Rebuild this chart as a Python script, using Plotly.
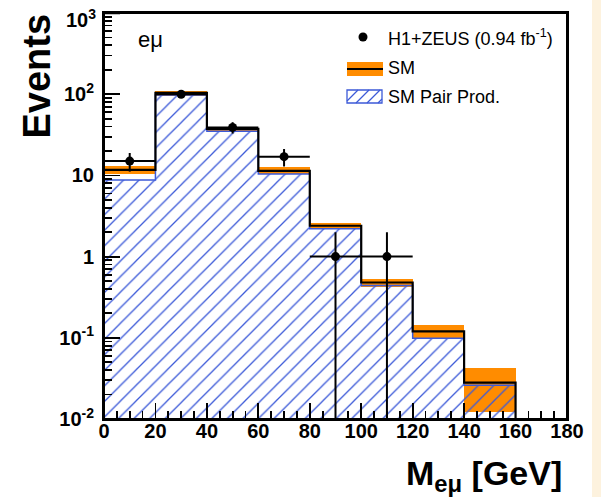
import numpy as np
import plotly.graph_objects as go

# ---------------- data ----------------
bin_edges = [0, 20, 40, 60, 80, 100, 120, 140, 160]
sm_total = [11.7, 104.0, 37.5, 11.4, 2.4, 0.48, 0.12, 0.028]
sm_low = [10.4, 96.0, 35.5, 10.4, 2.18, 0.42, 0.099, 0.0123]
sm_high = [13.1, 110.0, 40.0, 12.7, 2.63, 0.53, 0.144, 0.043]
pair_prod = [8.8, 98.0, 35.0, 10.4, 2.2, 0.44, 0.099, 0.026]
data_x = [10, 30, 50, 70, 90, 110]
data_n = [15, 100, 39, 17, 1, 1]

x_ticks = [0, 20, 40, 60, 80, 100, 120, 140, 160, 180]
y_tickvals = [1e-2, 1e-1, 1, 10, 1e2, 1e3]
y_ticktext = ["10<sup>-2</sup>", "10<sup>-1</sup>", "1", "10", "10<sup>2</sup>", "10<sup>3</sup>"]
y_min, y_max = 1e-2, 1e3
x_min, x_max = 0, 180

ORANGE = "#ff8c00"
BLUE = "#3c5ad8"
FONT = "Liberation Sans"

# ---------------- geometry helpers (pixel -> paper) ----------------
W, H = 601, 497
L, R, T, B = 104, 567, 13, 419


def xp(px):
    return (px - L) / (R - L)


def yp(py):
    return (B - py) / (B - T)


edges = np.array(bin_edges, dtype=float)
centers = (edges[:-1] + edges[1:]) / 2
widths = np.diff(edges)

# minor tick positions on the log axis (2..9 of every decade)
minor_y = [m * 10.0 ** d for d in range(-2, 3) for m in range(2, 10)]
yrange = [np.log10(y_min), np.log10(y_max)]

fig = go.Figure()

# SM uncertainty band
fig.add_trace(go.Bar(
    x=centers, width=widths, base=sm_low,
    y=np.array(sm_high) - np.array(sm_low),
    marker=dict(color=ORANGE, line=dict(width=0)),
    showlegend=False, hoverinfo="skip"))

# SM pair production (hatched)
fig.add_trace(go.Bar(
    x=centers, width=widths, y=pair_prod,
    marker=dict(color="rgba(0,0,0,0)", line=dict(width=0),
                pattern=dict(shape="/", fgcolor=BLUE, bgcolor="rgba(0,0,0,0)",
                             fillmode="replace", size=11, solidity=0.12)),
    showlegend=False, hoverinfo="skip"))

# pair production outline
fig.add_trace(go.Scatter(
    x=list(edges), y=list(pair_prod) + [pair_prod[-1]],
    mode="lines", line=dict(color=BLUE, width=1.5, shape="hv"),
    showlegend=False, hoverinfo="skip"))

# SM total step line
fig.add_trace(go.Scatter(
    x=list(edges) + [edges[-1]], y=list(sm_total) + [sm_total[-1], y_min * 1e-3],
    mode="lines", line=dict(color="black", width=2.2, shape="hv"),
    showlegend=False, hoverinfo="skip"))

# data
n = np.array(data_n, dtype=float)
err = np.sqrt(n)
fig.add_trace(go.Scatter(
    x=data_x, y=data_n, mode="markers",
    marker=dict(color="black", size=9),
    error_x=dict(type="constant", value=10, color="black", thickness=2, width=0),
    error_y=dict(type="data", array=err, arrayminus=np.minimum(err, n - y_min * 1e-3),
                 color="black", thickness=2, width=0),
    showlegend=False, hoverinfo="skip"))

# invisible trace that carries the minor-tick axis
fig.add_trace(go.Scatter(x=[x_min], y=[y_max], yaxis="y2", mode="markers",
                         marker=dict(opacity=0), showlegend=False, hoverinfo="skip"))

shapes = []
annotations = []

# right cream strip of the page
shapes.append(dict(type="rect", xref="paper", yref="paper", layer="below",
                   x0=xp(592), x1=xp(603), y0=yp(-2), y1=yp(499),
                   fillcolor="#fdf2de", line=dict(width=0)))

# frame
shapes.append(dict(type="rect", xref="paper", yref="paper", x0=0, x1=1, y0=0, y1=1,
                   line=dict(color="black", width=2)))
# major tick at the top end of the y axis (plotly drops the tick on the range end)
shapes.append(dict(type="line", xref="paper", yref="paper", x0=0, x1=xp(L + 16),
                   y0=1, y1=1, line=dict(color="black", width=2.5)))

# ---- legend (drawn by hand) ----
shapes.append(dict(type="circle", xref="paper", yref="paper",
                   x0=xp(358.5), x1=xp(367.5), y0=yp(41.5), y1=yp(32.5),
                   fillcolor="black", line=dict(width=0)))
shapes.append(dict(type="rect", xref="paper", yref="paper",
                   x0=xp(347), x1=xp(383), y0=yp(76), y1=yp(62),
                   fillcolor=ORANGE, line=dict(width=0)))
shapes.append(dict(type="line", xref="paper", yref="paper",
                   x0=xp(347), x1=xp(383), y0=yp(69), y1=yp(69),
                   line=dict(color="black", width=2.2)))
bx0, bx1, by0, by1 = 347, 382, 90, 103
hh = by1 - by0
for k in range(0, 6):
    sx = bx0 - hh + k * 11
    ax, ay, cx, cy = sx, by1, sx + hh, by0
    if ax < bx0:
        ay = by1 - (bx0 - ax)
        ax = bx0
    if cx > bx1:
        cy = by0 + (cx - bx1)
        cx = bx1
    if cx <= ax:
        continue
    shapes.append(dict(type="line", xref="paper", yref="paper",
                       x0=xp(ax), y0=yp(ay), x1=xp(cx), y1=yp(cy),
                       line=dict(color=BLUE, width=1.2)))
shapes.append(dict(type="rect", xref="paper", yref="paper",
                   x0=xp(bx0), x1=xp(bx1), y0=yp(by1), y1=yp(by0),
                   line=dict(color=BLUE, width=1.3)))

leg_font = dict(family=FONT, size=18, color="black")
for txt, py in [("H1+ZEUS (0.94 fb<sup>-1</sup>)", 37), ("SM", 68), ("SM Pair Prod.", 97)]:
    annotations.append(dict(text=txt, xref="paper", yref="paper", x=xp(386), y=yp(py),
                            xanchor="left", yanchor="middle", showarrow=False, font=leg_font))

# top y tick label (plotly drops the label sitting exactly on the range end)
annotations.append(dict(text="<b>" + y_ticktext[-1] + "</b>", xref="paper", yref="paper",
                        x=xp(L - 6), y=yp(T + 5), xanchor="right", yanchor="middle",
                        showarrow=False, font=dict(family=FONT, size=20, color="black")))

# channel label
annotations.append(dict(text="eμ", xref="paper", yref="paper", x=xp(150), y=yp(39),
                        xanchor="center", yanchor="middle", showarrow=False,
                        font=dict(family=FONT, size=22, color="black")))

# axis titles
annotations.append(dict(text="<b>Events</b>", xref="paper", yref="paper", x=xp(37), y=yp(12),
                        xanchor="center", yanchor="top", textangle=-90, showarrow=False,
                        font=dict(family=FONT, size=38, color="black")))
annotations.append(dict(text="<b>M<sub>eμ</sub> [GeV]</b>", xref="paper", yref="paper",
                        x=xp(564), y=yp(475), xanchor="right", yanchor="middle",
                        showarrow=False, font=dict(family=FONT, size=34, color="black")))

fig.update_layout(
    width=W, height=H,
    margin=dict(l=L, r=W - R, t=T, b=H - B, pad=0, autoexpand=False),
    paper_bgcolor="white", plot_bgcolor="white",
    barmode="overlay", bargap=0,
    shapes=shapes, annotations=annotations,
    showlegend=False,
    yaxis2=dict(type="log", range=yrange, overlaying="y", side="left", anchor="x",
                tickmode="array", tickvals=minor_y, ticks="inside", ticklen=8,
                tickwidth=1.8, tickcolor="black", showticklabels=False, automargin=False,
                showgrid=False, zeroline=False, showline=False),
)

fig.update_xaxes(
    range=[x_min, x_max], tickvals=x_ticks, ticks="inside", ticklen=16, tickwidth=1.8,
    tickcolor="black", showline=True, linecolor="black", linewidth=2, mirror=True,
    showgrid=False, zeroline=False, ticklabelstandoff=-7, automargin=False,
    tickfont=dict(family=FONT, size=20, color="black", weight="bold"),
    minor=dict(ticks="inside", dtick=5, ticklen=8, tickwidth=1.8, tickcolor="black", showgrid=False),
)
fig.update_layout(yaxis=dict(
    type="log", range=yrange, automargin=False,
    tickmode="array", tickvals=y_tickvals, ticktext=y_ticktext,
    ticks="inside", ticklen=16, tickwidth=1.8, tickcolor="black",
    showline=True, linecolor="black", linewidth=2, mirror=True,
    showgrid=False, zeroline=False, ticklabelstandoff=4,
    tickfont=dict(family=FONT, size=20, color="black", weight="bold"),
))

fig.write_html("out.html", config={"displayModeBar": False, "staticPlot": True})

# remove the browser's default page margin so the figure sits at the window origin
with open("out.html", "r", encoding="utf-8") as fh:
    html = fh.read()
html = html.replace("<head>", "<head><style>html,body{margin:0;padding:0;overflow:hidden;}</style>", 1)
with open("out.html", "w", encoding="utf-8") as fh:
    fh.write(html)
